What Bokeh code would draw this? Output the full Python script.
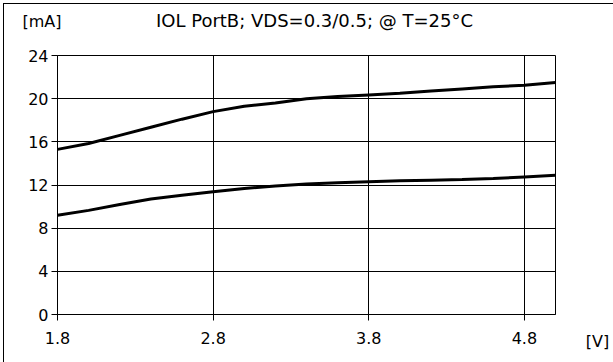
from bokeh.plotting import figure
from bokeh.models import Range1d, FixedTicker, Label
from bokeh.embed import file_html
from bokeh.resources import INLINE

# Data
vdd = [1.8, 2.0, 2.2, 2.4, 2.6, 2.8, 3.0, 3.2, 3.4, 3.6, 3.8, 4.0, 4.2, 4.4, 4.6, 4.8, 5.0]
iol_vds05 = [15.3, 15.85, 16.6, 17.35, 18.1, 18.8, 19.3, 19.6, 20.0, 20.2, 20.35, 20.5, 20.7, 20.9, 21.1, 21.25, 21.5]
iol_vds03 = [9.2, 9.65, 10.2, 10.7, 11.05, 11.38, 11.68, 11.9, 12.1, 12.2, 12.3, 12.4, 12.45, 12.5, 12.6, 12.75, 12.9]
x_ticks = [1.8, 2.8, 3.8, 4.8]
y_ticks = [0, 4, 8, 12, 16, 20, 24]
title_text = "IOL PortB; VDS=0.3/0.5; @ T=25°C"
y_unit = "[mA]"
x_unit = "[V]"

FONT = "DejaVu Sans"
PW, PH = 613, 362

# main chart
p = figure(width=610, height=359, output_backend="svg", toolbar_location=None,
           x_range=Range1d(1.8, 5.0), y_range=Range1d(0, 24),
           min_border_left=53, min_border_right=59, min_border_top=51, min_border_bottom=49)
p.styles = {"position": "absolute", "left": "3px", "top": "3px",
            "border-left": "1px solid black", "border-top": "1px solid black"}
p.background_fill_color = "white"
p.border_fill_color = "white"
p.outline_line_color = "black"
p.outline_line_width = 1

for ax, ticks in ((p.xaxis, x_ticks), (p.yaxis, y_ticks)):
    ax.ticker = FixedTicker(ticks=ticks)
    ax.axis_line_color = "black"
    ax.major_tick_line_color = "black"
    ax.major_tick_in = 0
    ax.major_tick_out = 6
    ax.minor_tick_line_color = None
    ax.major_label_text_font = FONT
    ax.major_label_text_font_size = "16px"
    ax.major_label_text_color = "black"
p.xaxis.major_label_standoff = 11
p.yaxis.major_label_standoff = 3

p.xgrid.ticker = FixedTicker(ticks=x_ticks)
p.ygrid.ticker = FixedTicker(ticks=y_ticks)
for g in (p.xgrid, p.ygrid):
    g.grid_line_color = "black"
    g.grid_line_width = 1

p.line(vdd, iol_vds05, line_color="black", line_width=3)
p.line(vdd, iol_vds03, line_color="black", line_width=3)

# transparent overlay whose frame is the whole page, for the free-standing texts
t = figure(width=PW, height=PH, output_backend="svg", toolbar_location=None,
           x_range=Range1d(0, PW), y_range=Range1d(0, PH),
           x_axis_type=None, y_axis_type=None, min_border=0,
           min_border_left=0, min_border_right=0, min_border_top=0, min_border_bottom=0)
t.styles = {"position": "absolute", "left": "0px", "top": "0px", "pointer-events": "none"}
t.background_fill_alpha = 0
t.border_fill_alpha = 0
t.outline_line_color = None
t.xgrid.visible = False
t.ygrid.visible = False

t.add_layout(Label(x=314, y=PH - 20, x_units="screen", y_units="screen", text=title_text,
                   text_font=FONT, text_font_size="18px",
                   text_align="center", text_baseline="middle", text_color="black"))
t.add_layout(Label(x=22, y=PH - 21, x_units="screen", y_units="screen", text=y_unit,
                   text_font=FONT, text_font_size="16px",
                   text_align="left", text_baseline="middle", text_color="black"))
t.add_layout(Label(x=597, y=PH - 341, x_units="screen", y_units="screen", text=x_unit,
                   text_font=FONT, text_font_size="16px",
                   text_align="center", text_baseline="middle", text_color="black"))

open("out.html", "w").write(file_html([p, t], INLINE))
